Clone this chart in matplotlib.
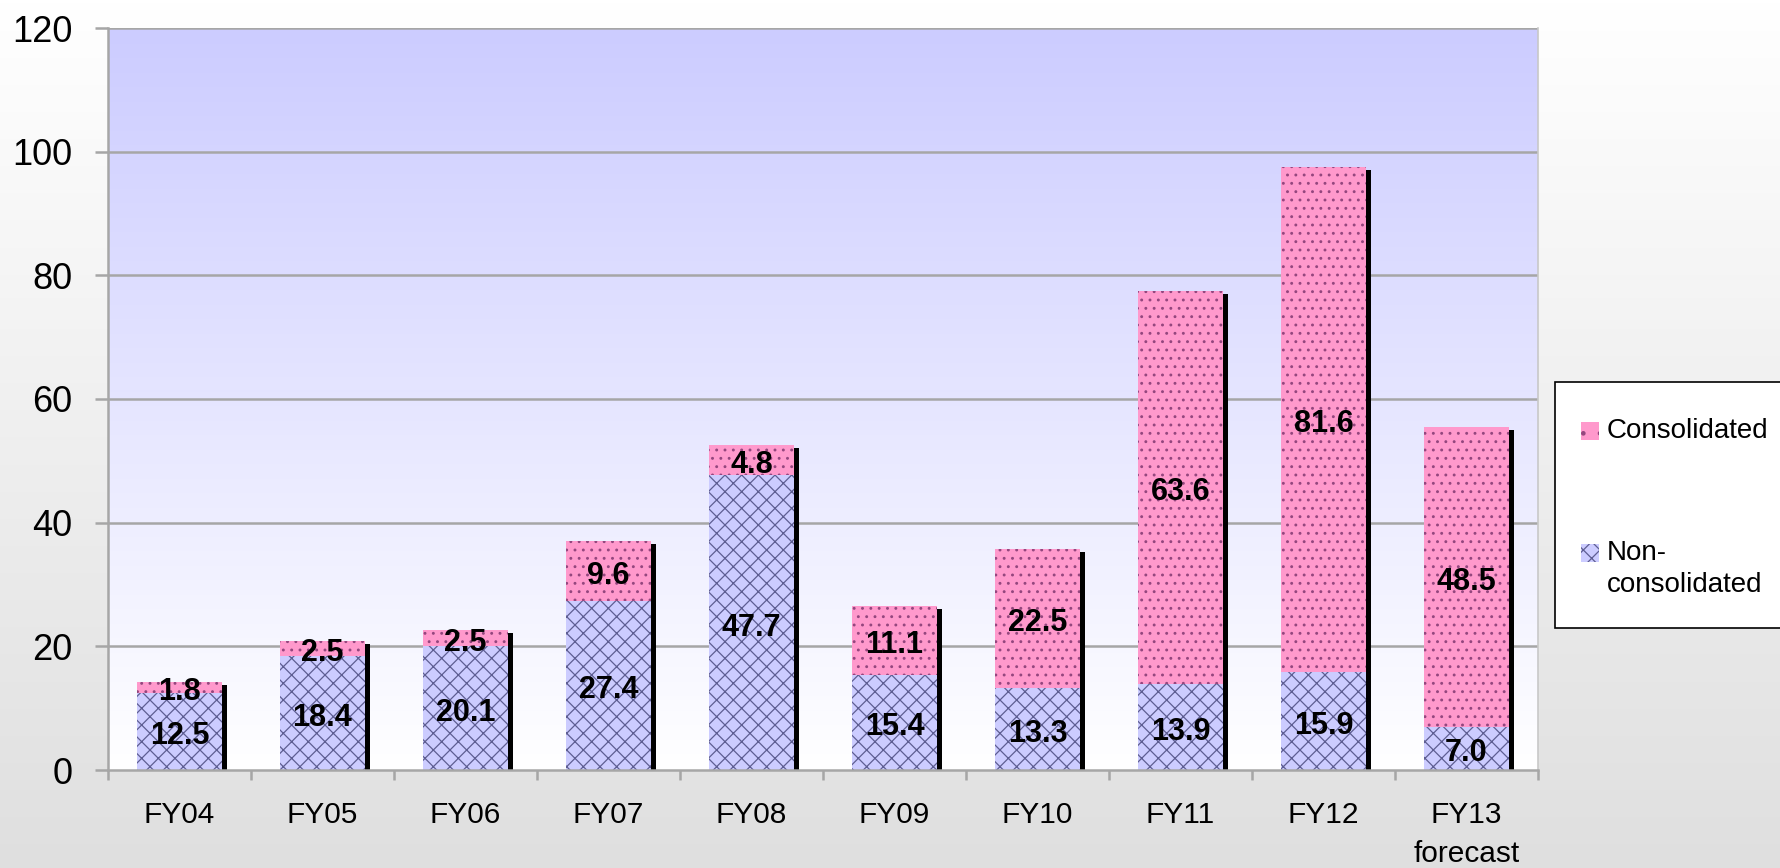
import numpy as np
import matplotlib
matplotlib.use("Agg")
import matplotlib.pyplot as plt
from matplotlib.patches import Rectangle
from matplotlib.transforms import ScaledTranslation

plt.rcParams['font.family'] = ['Liberation Sans', 'DejaVu Sans']
plt.rcParams['hatch.linewidth'] = 0.9

categories = ["FY04", "FY05", "FY06", "FY07", "FY08", "FY09", "FY10", "FY11", "FY12", "FY13\nforecast"]
non_consolidated = [12.5, 18.4, 20.1, 27.4, 47.7, 15.4, 13.3, 13.9, 15.9, 7.0]
consolidated = [1.8, 2.5, 2.5, 9.6, 4.8, 11.1, 22.5, 63.6, 81.6, 48.5]
yticks = [0, 20, 40, 60, 80, 100, 120]

W, H, DPI = 1781, 868, 100
fig = plt.figure(figsize=(W / DPI, H / DPI), dpi=DPI)

# figure background gradient
bg = fig.add_axes([0, 0, 1, 1], zorder=-10)
grad = np.linspace(0, 1, 256).reshape(-1, 1)
top_c = np.array([1.0, 1.0, 1.0])
bot_c = np.array([0.875, 0.875, 0.875])
img = top_c[None, None, :] * (1 - grad[..., None]) + bot_c[None, None, :] * grad[..., None]
bg.imshow(img, aspect='auto', extent=[0, 1, 0, 1], origin='upper')
bg.set_axis_off()

L, R, T, B = 108, 1538, 28, 770
ax = fig.add_axes([L / W, 1 - B / H, (R - L) / W, (B - T) / H])
ax.patch.set_visible(False)

n = len(categories)
x = np.arange(n)
ax.set_xlim(-0.5, n - 0.5)
ax.set_ylim(0, 120)

# plot-area gradient (lavender to white)
pa_top = np.array([0.8, 0.8, 1.0])
pa_bot = np.array([1.0, 1.0, 1.0])
img2 = pa_top[None, None, :] * (1 - grad[..., None]) + pa_bot[None, None, :] * grad[..., None]
ax.imshow(img2, aspect='auto', extent=[-0.5, n - 0.5, 0, 120], origin='upper', zorder=0.1)

# grid
for yv in yticks[1:]:
    ax.axhline(yv, color='#a6a6a6', lw=1.8, zorder=0.5)

totals = [a + b for a, b in zip(non_consolidated, consolidated)]
width = 0.6

# shadow
shadow_tr = ax.transData + ScaledTranslation(4.5 / DPI, -3 / DPI, fig.dpi_scale_trans)
ax.bar(x, totals, width=width, color='black', linewidth=0, zorder=1, transform=shadow_tr)

ax.bar(x, non_consolidated, width=width, color='#ccccff', edgecolor='#5e5e92',
       linewidth=0, hatch='xx', zorder=2)
ax.bar(x, consolidated, width=width, bottom=non_consolidated, color='#ff99cc',
       edgecolor='#94467e', linewidth=0, hatch='..', zorder=2)

label_tr = ax.transData + ScaledTranslation(0, -5 / DPI, fig.dpi_scale_trans)
for i in range(n):
    ax.text(x[i], non_consolidated[i] / 2, f"{non_consolidated[i]:.1f}", ha='center', va='center',
            fontsize=22, fontweight='bold', zorder=3, transform=label_tr)
    ax.text(x[i], non_consolidated[i] + consolidated[i] / 2, f"{consolidated[i]:.1f}", ha='center',
            va='center', fontsize=22, fontweight='bold', zorder=3, transform=label_tr)

# spines
ax.spines['top'].set_visible(False)
ax.spines['right'].set_color('#c8c8c8')
ax.spines['right'].set_linewidth(1.2)
ax.spines['left'].set_color('#a6a6a6')
ax.spines['left'].set_linewidth(1.8)
ax.spines['bottom'].set_color('#a6a6a6')
ax.spines['bottom'].set_linewidth(1.8)
for s in ax.spines.values():
    s.set_zorder(2.5)

ax.set_yticks(yticks)
ax.set_yticklabels([str(v) for v in yticks])
ax.tick_params(axis='y', length=9.5, width=1.8, color='#a6a6a6', pad=16, labelsize=26)

ax.set_xticks(x)
ax.set_xticklabels(categories, linespacing=1.5)
ax.set_xticks(np.arange(-0.5, n, 1.0), minor=True)
ax.tick_params(axis='x', which='major', length=0, pad=22, labelsize=21.5)
ax.tick_params(axis='x', which='minor', length=7, width=1.8, color='#a6a6a6')

# legend (manual)
leg_box = Rectangle((1555 / W, 1 - 628 / H), (1800 - 1555) / W, (628 - 382) / H,
                    transform=fig.transFigure, facecolor='white', edgecolor='black', lw=1.2, zorder=5)
fig.add_artist(leg_box)
h1 = Rectangle((1581 / W, 1 - 440 / H), 18 / W, 18 / H, transform=fig.transFigure,
               facecolor='#ff99cc', edgecolor='#94467e', linewidth=0, hatch='.', zorder=6)
h2 = Rectangle((1581 / W, 1 - 562 / H), 18 / W, 18 / H, transform=fig.transFigure,
               facecolor='#ccccff', edgecolor='#5e5e92', linewidth=0, hatch='xx', zorder=6)
fig.add_artist(h1)
fig.add_artist(h2)
fig.text(1607 / W, 1 - 431 / H, "Consolidated", ha='left', va='center', fontsize=20, zorder=7)
fig.text(1607 / W, 1 - 569 / H, "Non-\nconsolidated", ha='left', va='center', fontsize=20,
         linespacing=1.3, zorder=7)

fig.savefig("out.png", dpi=DPI)
